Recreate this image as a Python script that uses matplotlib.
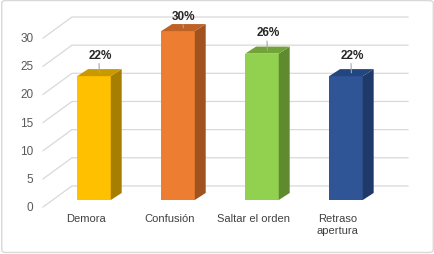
import matplotlib
matplotlib.use("Agg")
import matplotlib.pyplot as plt
from matplotlib.patches import Polygon, FancyBboxPatch

# datos
categorias = ["Demora", "Confusión", "Saltar el orden", "Retraso\napertura"]
valores = [22, 30, 26, 22]
etiquetas = ["22%", "30%", "26%", "22%"]
ticks = [0, 5, 10, 15, 20, 25, 30]

frente = ["#FFC000", "#ED7D31", "#92D050", "#2F5597"]
lado = ["#A67F00", "#A0521F", "#5F8B2F", "#1F3A68"]
tapa = ["#C89A00", "#BE6226", "#72A23A", "#24467F"]

plt.rcParams["font.family"] = ["Liberation Sans", "DejaVu Sans"]

fig = plt.figure(figsize=(4.35, 2.55), dpi=100)
fig.patch.set_facecolor("white")
ax = fig.add_axes([0, 0, 1, 1])
ax.set_xlim(-1.119, 4.060)
ax.set_ylim(-9.59, 35.70)
ax.axis("off")

# borde del grafico
fig.patches.append(FancyBboxPatch((0.004, 0.006), 0.992, 0.988, boxstyle="round,pad=0,rounding_size=0.01",
                                  transform=fig.transFigure, fc="none", ec="#D9D9D9", lw=1))

# profundidad 3D (en unidades de datos)
ancho = 0.40
dx, dy = 0.13, 1.25
gx0, gy0 = -0.607, -1.25   # pared lateral, frente
gx1, gy1 = -0.262, 2.5     # pared del fondo
gx2 = 3.738

for t in ticks:
    ax.plot([gx0, gx1, gx2], [t + gy0, t + gy1, t + gy1], color="#D9D9D9", lw=0.9, zorder=1)
    ax.text(-0.72, t + gy0, str(t), ha="right", va="center", fontsize=8.5, color="#595959")

for i, v in enumerate(valores):
    x0 = i - ancho / 2
    x1 = i + ancho / 2
    ax.bar(i, v, width=ancho, color=frente[i], zorder=3, lw=0)
    ax.add_patch(Polygon([(x1, 0), (x1 + dx, dy), (x1 + dx, v + dy), (x1, v)],
                         closed=True, fc=lado[i], ec="none", zorder=3))
    ax.add_patch(Polygon([(x0, v), (x1, v), (x1 + dx, v + dy), (x0 + dx, v + dy)],
                         closed=True, fc=tapa[i], ec="none", zorder=3))
    ly = min(v + 3.8, 32.7)
    ax.text(i + 0.07, ly, etiquetas[i], ha="center", va="center", fontsize=8.5,
            fontweight="bold", color="#262626", zorder=5)
    ax.plot([i + 0.06, i + dx / 2], [ly - 1.6, v + dy / 2], color="#A6A6A6", lw=0.8, zorder=4)
    ax.text(i - 0.1, -2.3, categorias[i], ha="center", va="top", fontsize=8,
            color="#404040", linespacing=1.3)

fig.savefig("out.png", dpi=100)
